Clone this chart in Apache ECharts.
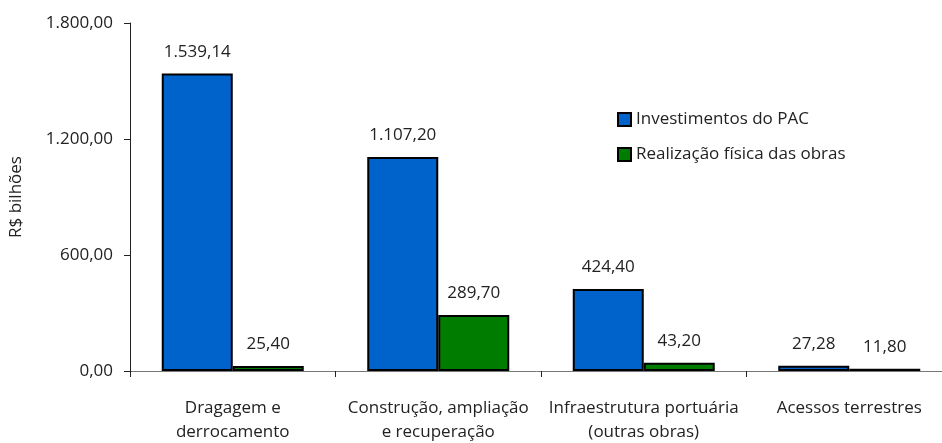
<!DOCTYPE html>
<html>
<head>
<meta charset="utf-8">
<script src="https://cdn.jsdelivr.net/npm/echarts@6/dist/echarts.min.js"></script>
<style>
  html, body { margin: 0; padding: 0; background: #fff; }
  #chart { width: 942px; height: 443px; }
</style>
</head>
<body>
<div id="chart"></div>
<script>
// categorias e valores (R$ bilhões)
var categories = ['Dragagem e\nderrocamento', 'Construção, ampliação\ne recuperação', 'Infraestrutura portuária\n(outras obras)', 'Acessos terrestres'];
var investimentos = [1539.14, 1107.20, 424.40, 27.28];
var realizacao = [25.40, 289.70, 43.20, 11.80];
var seriesNames = ['Investimentos do PAC', 'Realização física das obras'];
var yTicks = [0, 600, 1200, 1800];

var FONT = 'Open Sans';
var TXT = '#222';

function fmt(v) {
    return v.toLocaleString('pt-BR', { minimumFractionDigits: 2, maximumFractionDigits: 2 });
}

var myChart = echarts.init(document.getElementById('chart'));

var barLabel = {
    show: true,
    position: 'top',
    distance: 13,
    color: TXT,
    fontFamily: FONT,
    fontSize: 17,
    formatter: function(p){ return fmt(p.value); }
};

var option = {
    animation: false,
    backgroundColor: '#fff',
    textStyle: { fontFamily: FONT },
    grid: {
        left: 130,
        right: -10,
        top: 23,
        bottom: 72,
        outerBoundsMode: 'none',
        containLabel: false
    },
    legend: {
        orient: 'vertical',
        left: 612,
        top: 106,
        itemWidth: 13,
        itemHeight: 13,
        itemGap: 18,
        icon: 'rect',
        data: seriesNames,
        textStyle: { color: TXT, fontSize: 17, fontFamily: FONT },
        itemStyle: { borderColor: '#000', borderWidth: 2 }
    },
    xAxis: {
        type: 'category',
        data: categories,
        axisLine: { lineStyle: { color: '#777', width: 1 } },
        axisTick: { show: true, length: 6, inside: false, alignWithLabel: false, lineStyle: { color: '#222' } },
        axisLabel: {
            color: TXT,
            fontSize: 17,
            fontFamily: FONT,
            margin: 25,
            lineHeight: 24,
            interval: 0
        }
    },
    yAxis: {
        type: 'value',
        min: yTicks[0],
        max: yTicks[yTicks.length - 1],
        interval: 600,
        name: 'R$ bilhões',
        nameLocation: 'middle',
        nameGap: 105,
        nameTextStyle: { color: TXT, fontSize: 17, fontFamily: FONT },
        axisLine: { show: true, lineStyle: { color: '#222', width: 1 } },
        axisTick: { show: true, length: 6, lineStyle: { color: '#222' } },
        splitLine: { show: false },
        axisLabel: {
            color: TXT,
            fontSize: 17,
            fontFamily: FONT,
            margin: 17,
            formatter: function(v){ return fmt(v); }
        }
    },
    series: [
        {
            name: seriesNames[0],
            type: 'bar',
            data: investimentos,
            barWidth: 71,
            barGap: '0%',
            itemStyle: { color: '#0063CC', borderColor: '#000', borderWidth: 2 },
            label: barLabel
        },
        {
            name: seriesNames[1],
            type: 'bar',
            data: realizacao,
            barWidth: 71,
            itemStyle: { color: '#007D00', borderColor: '#000', borderWidth: 2 },
            label: barLabel
        }
    ]
};

myChart.setOption(option);
</script>
</body>
</html>
